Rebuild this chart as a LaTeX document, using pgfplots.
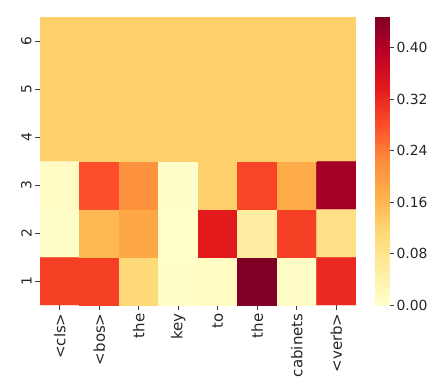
\documentclass[border=0pt]{standalone}
\usepackage{pgfplots}
\pgfplotsset{compat=1.18}
\usepackage{fontspec}
\setmainfont{DejaVu Sans}
\pgfplotsset{
  colormap={ylorrd}{rgb255=(255,255,204) rgb255=(255,237,160) rgb255=(254,217,118) rgb255=(254,178,76) rgb255=(253,141,60) rgb255=(252,78,42) rgb255=(227,26,28) rgb255=(189,0,38) rgb255=(128,0,38)},
}
\begin{document}
\begin{tikzpicture}[x=1pt,y=1pt]
\begin{axis}[
  at={(0pt,0pt)}, anchor=south west,
  scale only axis, width=316pt, height=288pt,
  xmin=-0.5, xmax=7.5, ymin=0.5, ymax=6.5,
  axis line style={draw=none},
  xtick={0,...,7},
  xticklabels={<cls>,<bos>,the,key,to,the,cabinets,<verb>},
  ytick={1,...,6},
  xtick pos=bottom, ytick pos=left,
  tick align=outside,
  tick style={color=black!75, line width=0.8pt},
  major tick length=4.9pt,
  tick label style={font=\fontsize{13.9}{16}\selectfont, text=black!85},
  xticklabel style={rotate=90, anchor=east, font=\fontsize{15}{17}\selectfont},
  yticklabel style={rotate=90, anchor=south},
  /pgf/number format/assume math mode=true,
  colormap name=ylorrd,
  point meta min=0, point meta max=0.448,
]
\addplot[matrix plot*, mesh/cols=8, point meta=explicit, shader=flat corner] table[meta=c] {
x y c
0 1 0.295
1 1 0.295
2 1 0.110
3 1 0.004
4 1 0.012
5 1 0.448
6 1 0.008
7 1 0.320
0 2 0.004
1 2 0.160
2 2 0.185
3 2 0.001
4 2 0.336
5 2 0.055
6 2 0.295
7 2 0.090
0 3 0.012
1 3 0.280
2 3 0.215
3 3 0.002
4 3 0.125
5 3 0.290
6 3 0.178
7 3 0.415
0 4 0.125
1 4 0.125
2 4 0.125
3 4 0.125
4 4 0.125
5 4 0.125
6 4 0.125
7 4 0.125
0 5 0.125
1 5 0.125
2 5 0.125
3 5 0.125
4 5 0.125
5 5 0.125
6 5 0.125
7 5 0.125
0 6 0.125
1 6 0.125
2 6 0.125
3 6 0.125
4 6 0.125
5 6 0.125
6 6 0.125
7 6 0.125
};
\end{axis}
% colour bar as its own axis
\begin{axis}[
  at={(335pt,0pt)}, anchor=south west,
  scale only axis, width=14pt, height=288pt,
  xmin=0, xmax=1, ymin=0, ymax=0.448,
  axis line style={draw=none},
  xtick=\empty,
  ytick={0,0.08,0.16,0.24,0.32,0.40},
  ytick pos=right, yticklabel pos=right,
  tick align=outside,
  tick style={color=black!75, line width=0.8pt},
  major tick length=4.9pt,
  yticklabel style={font=\fontsize{13.9}{16}\selectfont, text=black!85, inner xsep=2.5pt,
    /pgf/number format/.cd, fixed, fixed zerofill, precision=2, assume math mode=true},
  colormap name=ylorrd,
  point meta min=0, point meta max=0.448,
]
\addplot[surf, shader=interp, point meta=y] coordinates {
(0,0) (1,0)

(0,0.056) (1,0.056)

(0,0.112) (1,0.112)

(0,0.168) (1,0.168)

(0,0.224) (1,0.224)

(0,0.280) (1,0.280)

(0,0.336) (1,0.336)

(0,0.392) (1,0.392)

(0,0.448) (1,0.448)
};
\end{axis}
\pgfresetboundingbox
\path (-40,-79) rectangle (396,305);
\end{tikzpicture}
\end{document}
